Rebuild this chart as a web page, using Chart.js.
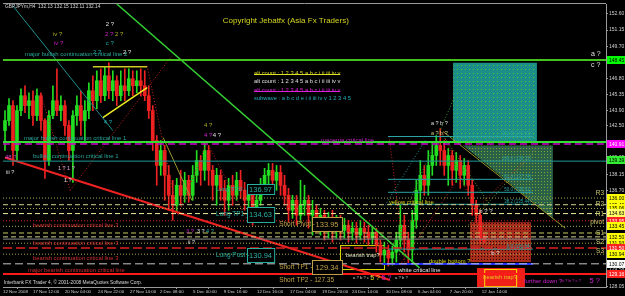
<!DOCTYPE html>
<html>
<head>
<meta charset="utf-8">
<script src="https://cdn.jsdelivr.net/npm/chart.js@4.4.0/dist/chart.umd.min.js"></script>
<style>
html, body { margin: 0; padding: 0; background: #000; overflow: hidden; }
canvas { display: block; }
</style>
</head>
<body>
<canvas id="priceChart" width="625" height="296"></canvas>
<script>
// GBPJPYm H4 candles (bar i sits at x = i + 0.5)
const opens = [142.09,142.99,144.34,140.29,143.89,145.23,144.34,144.78,143.44,145.23,
  142.99,139.39,143.44,144.78,143.89,144.34,142.54,140.29,143.44,144.34,
  142.99,143.89,145.68,144.78,146.58,145.23,147.03,145.68,146.58,145.23,
  146.13,145.68,146.76,146.13,146.58,146.13,145.23,143.89,141.19,138.94,
  140.29,138.05,136.25,135.35,137.15,136.25,137.60,136.25,138.05,139.39,
  138.50,140.29,138.50,137.15,138.05,136.70,135.80,137.15,136.25,137.60,
  136.70,135.80,136.25,134.90,135.80,137.15,138.05,138.50,137.60,138.32,
  137.15,136.25,134.90,135.80,134.45,135.35,135.80,134.45,134.90,133.82,
  134.45,133.55,134.18,133.28,133.82,133.10,133.55,132.92,133.28,132.66,
  133.28,132.92,132.39,132.92,131.76,130.86,131.31,130.59,131.13,132.21,
  133.55,132.21,131.31,134.00,136.70,138.05,137.15,138.94,139.84,140.74,
  140.29,138.94,139.84,138.50,139.39,138.05,138.94,137.15,135.35,134.45,132.39];
const closes = [142.99,144.34,140.29,143.89,145.23,144.34,144.78,143.44,145.23,142.99,
  139.39,143.44,144.78,143.89,144.34,142.54,140.29,143.44,144.34,142.99,
  143.89,145.68,144.78,146.58,145.23,147.03,145.68,146.58,145.23,146.13,
  145.68,146.76,146.13,146.58,146.13,145.23,143.89,141.19,138.94,140.29,
  138.05,136.25,135.35,137.15,136.25,137.60,136.25,138.05,139.39,138.50,
  140.29,138.50,137.15,138.05,136.70,135.80,137.15,136.25,137.60,136.70,
  135.80,136.25,134.90,135.80,137.15,138.05,138.50,137.60,138.32,137.15,
  136.25,134.90,135.80,134.45,135.35,135.80,134.45,134.90,133.82,134.45,
  133.55,134.18,133.28,133.82,133.10,133.55,132.92,133.28,132.66,133.28,
  132.92,132.39,132.92,131.76,130.86,131.31,130.59,131.13,132.21,133.55,
  132.21,131.31,134.00,136.70,138.05,137.15,138.94,139.84,140.74,140.29,
  138.94,139.84,138.50,139.39,138.05,138.94,137.15,135.35,134.45,132.39,132.14];
const highs = [143.89,144.96,144.78,144.34,145.86,146.13,145.50,145.68,145.86,145.50,
  143.17,143.89,146.13,147.66,145.23,144.78,142.99,143.89,145.23,145.68,
  144.78,146.40,147.03,147.48,147.66,147.84,148.20,147.48,147.03,147.48,
  147.66,147.66,147.48,147.48,147.66,147.48,146.13,144.34,141.64,141.19,
  140.74,138.94,137.60,137.78,138.50,138.32,138.05,138.94,140.29,139.84,
  141.01,140.74,138.94,138.68,138.50,137.60,137.78,138.05,138.32,138.50,
  137.42,137.15,136.70,136.70,137.78,138.68,139.12,139.12,138.94,138.94,
  138.05,136.88,136.25,136.25,137.60,137.15,136.25,135.80,135.35,135.08,
  134.90,134.72,134.90,134.45,134.45,134.18,134.00,133.82,133.82,134.00,
  133.82,133.55,133.46,133.28,132.21,132.03,131.76,131.67,132.92,135.35,
  134.45,132.92,134.90,137.60,139.39,138.94,140.29,141.01,141.64,142.27,
  141.19,140.47,140.29,140.11,139.84,139.57,139.39,137.60,135.80,134.90,132.83];
const lows = [140.29,142.54,138.94,139.39,143.44,143.71,143.17,142.54,142.99,142.09,
  137.78,138.94,143.17,143.44,142.99,141.64,139.39,137.42,142.54,141.64,
  141.19,143.17,143.89,144.07,144.61,144.78,144.96,144.78,144.34,144.78,
  144.78,145.23,145.23,145.50,145.23,144.78,143.17,140.29,137.15,138.05,
  135.80,134.90,134.00,134.72,135.35,135.62,135.62,135.80,137.42,137.15,
  137.60,137.15,135.80,135.35,135.80,134.45,134.90,135.35,135.80,135.98,
  134.90,134.72,133.55,134.45,135.35,136.70,137.15,136.88,136.70,136.25,
  135.35,133.82,134.18,133.55,133.82,134.45,133.28,132.66,132.92,132.66,
  132.21,132.39,132.03,132.39,132.21,132.39,132.03,132.21,131.94,132.21,
  132.03,131.76,131.85,131.13,130.23,129.96,129.87,129.96,130.23,131.49,
  131.13,130.05,130.23,133.28,135.80,136.25,136.25,138.05,138.94,138.94,
  138.05,137.15,137.15,137.42,136.88,137.15,136.25,134.45,133.82,131.94,131.94];

// time axis
const timeTickPos = [0, 7.5, 15.5, 23.8, 31.8, 39.3, 47.6, 55.3, 63.6, 71.9, 79.9, 87.4, 95.9, 103.9, 111.9, 119.9];
const timeTickLabels = ['12 Nov 2008', '17 Nov 12:00', '20 Nov 04:00', '24 Nov 22:00', '27 Nov 14:00',
  '2 Dec 08:00', '5 Dec 00:00', '9 Dec 16:00', '12 Dec 16:00', '17 Dec 04:00', '19 Dec 20:00',
  '24 Dec 14:00', '30 Dec 08:00', '6 Jan 04:00', '7 Jan 20:00', '12 Jan 14:00'];

// price axis
const priceTicks = [152.60, 151.15, 149.70, 148.25, 146.80, 145.35, 143.90, 142.50, 139.65, 138.15, 136.70, 128.05];

// full width horizontal levels
const levelPrices = [148.45, 141.05, 140.88, 139.33, 136.00, 135.40, 135.06, 134.60, 133.95, 133.45,
  132.85, 132.50, 132.30, 131.93, 131.50, 130.94, 130.07, 129.15];
const levelStyles = [
  ['#44c31e', 2, []], ['#33dd33', 2, []], ['#cc00cc', 1.5, [7, 4]], ['#1f9a9a', 1, []],
  ['#a8a850', 1, [1, 2]], ['#d0d090', 1, [5, 3]], ['#a8a850', 1, [1, 2]], ['#eeee99', 1, [5, 3]],
  ['#dd2020', 1, [1, 2]], ['#a8a850', 1, [1, 2]], ['#c8c860', 1, [5, 3]], ['#d0d090', 1, [5, 3]],
  ['#8a8a8a', 1, []], ['#a8a850', 1, [1, 2]], ['#e02020', 1.5, [9, 4]], ['#a8a850', 1, [1, 2]],
  ['#c8c8c8', 1, [8, 4]], ['#ff1a1a', 2, []]
];

// fibonacci lines (short, right side)
const fibFrom = 96.4, fibTo = 132.7;
const fibPrices = [141.55, 137.69, 136.52, 135.44, 131.40];
const fibTexts = ['161.8 (141.61)', '100.0 (139.33)', '61.8 (137.74)', '50.0 (136.61)', '38.2 (135.44)', '0.0 (131.54)'];
const fibTextPrices = [141.80, 139.58, 137.94, 136.77, 135.69, 131.65];

// trend lines [x1, p1, x2, p2]
const segments = [
  [28.5, 153.50, 104.3, 129.70],
  [2.5, 153.32, 27.5, 142.09],
  [0.5, 139.66, 96.9, 128.61],
  [25.0, 143.26, 36.1, 145.95],
  [22.5, 147.84, 36.1, 147.84],
  [40.1, 141.46, 47.3, 135.80],
  [110.2, 142.00, 140.8, 133.28],
  [101.9, 135.80, 113.2, 145.23],
  [110.2, 141.64, 122.0, 135.35],
  [116.5, 133.55, 133.2, 140.29],
  [95.7, 135.35, 105.7, 141.19],
  [10.0, 144.78, 16.8, 136.70],
  [16.8, 136.70, 42.3, 148.83],
  [36.1, 147.93, 43.8, 134.45],
  [43.8, 134.45, 51.1, 141.01],
  [51.1, 141.01, 61.9, 133.55],
  [96.7, 141.55, 100.7, 129.96],
  [99.4, 129.96, 117.0, 139.39],
  [110.2, 141.82, 119.5, 133.64],
  [117.0, 134.45, 132.0, 139.84],
  [94.9, 130.05, 132.7, 130.05]
];
const segmentStyles = [
  ['#33cc33', 1.5, []], ['#1f8f8f', 1, []], ['#ee2222', 2, []], ['#eeee22', 1.5, []],
  ['#cccc22', 1.5, []], ['#9a9a30', 1, []], ['#9a9a30', 1, []], ['#3aa03a', 1, [1, 2]],
  ['#6a9a30', 1, [1, 2]], ['#6a9a30', 1, [1, 2]], ['#2a9a9a', 1, [1, 2]], ['#cc2020', 1, [1, 2]],
  ['#cc2020', 1, [1, 2]], ['#cc2020', 1, [1, 2]], ['#cc2020', 1, [1, 2]], ['#cc2020', 1, [1, 2]],
  ['#cc2020', 1, [1, 2]], ['#cc2020', 1, [1, 2]], ['#cc2020', 1, [1, 2]], ['#cc2020', 1, [1, 2]],
  ['#2233ff', 2, []]
];

// pivot names on the right
const pivotNames = ['R3', 'R2', 'R1', 'pivot', 'S1', 'S2', 'S3'];
const pivotNamePrices = [136.43, 135.44, 134.54, 133.82, 132.83, 132.03, 131.22];

// coloured price labels on the axis
const axisLabelPrices = [148.45, 140.91, 139.39, 136.00, 135.40, 135.06, 134.63, 133.95, 133.45,
  132.50, 131.93, 131.50, 130.94, 130.07, 129.58, 129.16];
const axisLabelColors = ['#00ff00', '#ff00ff', '#33ee33', '#ffff00', '#ffff00', '#ffff00', '#ffff66', '#ff2020',
  '#ffff00', '#ffff00', '#ffff00', '#ff2020', '#ffff00', '#ffffff', null, '#ff2020'];

const TEAL = '#28b0a0';
const KHAKI = '#c0a048';

// target boxes: [x1, x2, pTop, pBottom, text]
const valueBoxes = [
  [61.1, 67.9, 137.24, 136.34, '136.97'],
  [61.1, 67.9, 135.17, 133.82, '134.63'],
  [77.4, 84.9, 134.27, 133.01, '133.95'],
  [61.1, 67.9, 131.49, 130.23, '130.94'],
  [77.4, 84.9, 130.41, 129.15, '129.34']
];
const valueBoxColors = [TEAL, TEAL, KHAKI, TEAL, KHAKI];

const texts = [
  [0.25, 153.23, 'GBPJPYm,H4  132.13 132.15 132.11 132.14', '#d8d8d8', 4.8],
  [54.8, 151.97, 'Copyright Jebatfx (Asia Fx Traders)', '#d4d420', 8],
  [62.6, 147.21, 'alt count : 1 2 3 4 5 a b c i ii iii iv v', '#dddd22', 5.8, true],
  [62.6, 146.49, 'alt count : 1 2 3 4 5 a b c i ii iii iv v', '#e0e0e0', 5.8],
  [62.6, 145.68, 'alt count : 1 2 3 4 5 a b c i ii iii iv v', '#dd22dd', 5.8, true],
  [62.6, 144.96, 'subwave : a b c d e i ii iii iv v 1 2 3 4 5', '#22b0c0', 5.8],
  [5.26, 148.92, 'major bullish continuation critical line 2', '#2aa89a', 6],
  [5.0, 141.37, 'major bullish continuation critical line 1', '#2aa89a', 6],
  [7.26, 139.75, 'bullish continuation critical line 1', '#2aa89a', 6],
  [79.4, 141.19, 'magenta critical line', '#c020c0', 6],
  [7.26, 133.55, 'bearish continuation critical line 3', '#d03030', 5.8],
  [7.26, 131.94, 'bearish continuation critical line 3', '#d03030', 5.8],
  [7.26, 130.59, 'bearish continuation critical line 3', '#d03030', 5.8],
  [6.0, 129.51, 'major bearish continuation critical line', '#d03030', 5.8],
  [0.0, 128.34, 'Interbank FX Trader 4, \u00a9 2001-2008 MetaQuotes Software Corp.', '#d8d8d8', 4.8],
  [96.4, 135.62, 'yellow critical line', '#d8d820', 5.8],
  [98.7, 129.51, 'white critical line', '#e8e8e8', 5.8],
  [106.4, 130.32, 'double bottom ?', '#d8d820', 5.8],
  [85.6, 130.86, 'bearish trap?', '#e0e0c0', 5.8],
  [120.0, 128.88, 'bearish trap?', '#f0c020', 5.8],
  [130.2, 128.52, 'further down ?', '#d020d0', 6],
  [139.6, 128.52, 'a ? b ? c ?', '#d020d0', 4.2],
  [146.6, 128.52, '5 ?', '#d020d0', 7.5],
  [87.4, 128.79, 'a ? b ? c ?', '#d0d0d0', 4.2],
  [91.7, 128.79, '5 ?', '#d8d820', 7],
  [94.6, 128.79, '5 ?', '#d020d0', 7],
  [97.9, 128.79, 'a ? b ?', '#d0d0d0', 4.2],
  [25.5, 151.70, '2 ?', '#e0e0e0', 6],
  [12.27, 150.80, 'iv ?', '#b0b020', 6],
  [25.3, 150.80, '2 ?', '#d020d0', 6],
  [27.8, 150.80, '2 ?', '#b0b020', 6],
  [12.52, 149.91, 'iv ?', '#d020d0', 6],
  [25.5, 149.91, 'c ?', '#20b0b0', 6],
  [22.3, 149.10, '2 ?', '#20b0b0', 6],
  [29.8, 149.10, '2 ?', '#e0e0e0', 6],
  [147.0, 149.01, 'a ?', '#e0e0e0', 7],
  [147.0, 148.02, 'c ?', '#e0e0e0', 7],
  [25.0, 142.81, '4 ?', '#20b0b0', 6],
  [50.1, 142.54, '4 ?', '#b0b020', 6],
  [50.1, 141.64, '4 ?', '#d020d0', 6],
  [52.3, 141.64, '4 ?', '#e0e0e0', 6],
  [0.25, 139.66, '48 ?', '#d040d0', 6],
  [0.5, 138.32, 'iii ?', '#e0e0e0', 5.5],
  [13.5, 138.68, '1 ? 1 ?', '#e0b0e0', 5.5],
  [15.0, 137.60, '1 ?', '#e0e0e0', 5.5],
  [45.6, 133.01, '3 ?', '#d020d0', 5.5],
  [48.3, 133.01, '3 ?', '#e0e0e0', 5.5],
  [50.6, 133.01, '4 ?', '#20b0b0', 5.5],
  [46.1, 132.03, 'ii ?', '#e0e0e0', 5.5],
  [106.9, 142.72, 'a ? b ?', '#e0e0e0', 5.5],
  [106.9, 141.82, 'a ? b ?', '#d0d080', 5.5],
  [119.0, 134.81, 'b ? ?', '#e0e0e0', 6],
  [122.0, 131.04, 'b ?', '#e0e0e0', 6],
  [53.1, 136.79, 'Long TP2 -', TEAL, 6],
  [53.1, 134.54, 'Long TP1 -', TEAL, 6.5],
  [68.9, 133.64, 'Short Pivot -', KHAKI, 6.5],
  [53.1, 130.86, 'Long Post -', TEAL, 6.5],
  [68.9, 129.78, 'Short TP1 -', KHAKI, 6.5],
  [68.9, 128.61, 'Short TP2 - 127.35', KHAKI, 6.5]
];

const FONT = '"Liberation Sans", Arial, sans-serif';
const BULL = '#22dd22';
const BEAR = '#ee2222';

function dotPattern(ctx, bg, dot, step) {
  const c = document.createElement('canvas');
  c.width = step; c.height = step;
  const g = c.getContext('2d');
  g.fillStyle = bg; g.fillRect(0, 0, step, step);
  g.fillStyle = dot; g.fillRect(1, 1, 1, 1);
  return ctx.createPattern(c, 'repeat');
}

const overlay = {
  id: 'overlay',
  beforeDatasetsDraw(chart) {
    const { ctx, chartArea: a } = chart;
    const X = v => chart.scales.x.getPixelForValue(v);
    const Y = v => chart.scales.y.getPixelForValue(v);
    ctx.save();
    ctx.beginPath(); ctx.rect(a.left, a.top, a.right - a.left, a.bottom - a.top); ctx.clip();
    // teal target box
    ctx.fillStyle = dotPattern(ctx, '#1b8f88', '#5cbf3a', 4);
    ctx.fillRect(X(112.7), Y(148.20), X(133.7) - X(112.7), Y(141.10) - Y(148.20));
    // green triangle
    ctx.fillStyle = dotPattern(ctx, '#2b6048', '#7aa830', 3);
    ctx.beginPath();
    ctx.moveTo(X(115.2), Y(140.74)); ctx.lineTo(X(137.7), Y(140.74)); ctx.lineTo(X(137.7), Y(134.18));
    ctx.closePath(); ctx.fill();
    // red dotted box
    ctx.fillStyle = dotPattern(ctx, '#a82c1c', '#2a0804', 3);
    ctx.fillRect(X(117.0), Y(133.82), X(132.2) - X(117.0), Y(130.23) - Y(133.82));
    // red bearish trap box
    ctx.fillStyle = '#ee2018';
    ctx.fillRect(X(118.7), Y(129.69), X(130.7) - X(118.7), Y(127.98) - Y(129.69));
    ctx.strokeStyle = '#ffdd00'; ctx.lineWidth = 1;
    ctx.strokeRect(X(120.5) + 0.5, Y(129.60) + 0.5, X(128.5) - X(120.5), Y(128.05) - Y(129.60));
    // yellow outlined box
    ctx.strokeStyle = '#dddd00';
    ctx.strokeRect(X(84.4) + 0.5, Y(131.76) + 0.5, X(95.4) - X(84.4), Y(129.60) - Y(131.76));
    ctx.restore();
  },
  afterDatasetsDraw(chart) {
    const { ctx, chartArea: a } = chart;
    const X = v => chart.scales.x.getPixelForValue(v);
    const Y = v => chart.scales.y.getPixelForValue(v);
    ctx.save();
    ctx.beginPath(); ctx.rect(a.left, a.top - 2, a.right - a.left, a.bottom - a.top + 4); ctx.clip();
    ctx.textBaseline = 'middle';
    // target boxes with numbers
    valueBoxes.forEach((b, i) => {
      const c = valueBoxColors[i];
      ctx.fillStyle = '#000';
      ctx.fillRect(X(b[0]), Y(b[2]), X(b[1]) - X(b[0]), Y(b[3]) - Y(b[2]));
      ctx.strokeStyle = c; ctx.lineWidth = 1;
      ctx.strokeRect(Math.round(X(b[0])) + 0.5, Math.round(Y(b[2])) + 0.5, X(b[1]) - X(b[0]), Y(b[3]) - Y(b[2]));
      ctx.fillStyle = c;
      ctx.font = '7.5px ' + FONT;
      ctx.textAlign = 'center';
      ctx.fillText(b[4], (X(b[0]) + X(b[1])) / 2, (Y(b[2]) + Y(b[3])) / 2 + 0.5);
    });
    // fib texts
    ctx.textAlign = 'right';
    ctx.font = '4.5px ' + FONT;
    ctx.fillStyle = '#2aa6a6';
    fibTexts.forEach((t, i) => ctx.fillText(t, X(fibTo) - 2, Y(fibTextPrices[i])));
    // pivot names
    ctx.font = '6.5px ' + FONT;
    ctx.fillStyle = '#c8c870';
    pivotNames.forEach((t, i) => ctx.fillText(t, X(150.5), Y(pivotNamePrices[i])));
    // free texts
    ctx.textAlign = 'left';
    texts.forEach(t => {
      ctx.font = t[4] + 'px ' + FONT;
      ctx.fillStyle = t[3];
      const x = X(t[0]) + 1, y = Y(t[1]);
      ctx.fillText(t[2], x, y);
      if (t[5]) {
        const w = ctx.measureText(t[2]).width;
        ctx.fillRect(x, Math.round(y), w, 1);
      }
    });
    ctx.restore();
  },
  afterDraw(chart) {
    const { ctx, chartArea: a } = chart;
    const Y = v => chart.scales.y.getPixelForValue(v);
    ctx.save();
    // frame top
    ctx.strokeStyle = '#9a9a9a'; ctx.lineWidth = 1;
    ctx.beginPath(); ctx.moveTo(a.left, a.top - 0.5); ctx.lineTo(a.right, a.top - 0.5); ctx.stroke();
    // coloured axis labels
    ctx.font = '5px ' + FONT;
    ctx.textBaseline = 'middle';
    ctx.textAlign = 'left';
    axisLabelPrices.forEach((p, i) => {
      const y = Y(p);
      const bg = axisLabelColors[i];
      if (bg) {
        ctx.fillStyle = bg;
        ctx.fillRect(a.right + 1, Math.round(y) - 4, 625 - a.right, 8);
        ctx.fillStyle = bg === '#ff2020' || bg === '#ff00ff' ? '#ffffff' : '#000000';
      } else {
        ctx.fillStyle = '#d0d0d0';
      }
      ctx.fillText(p.toFixed(2), a.right + 3, Math.round(y) + 0.5);
    });
    ctx.restore();
  }
};

const candleColors = opens.map((o, i) => closes[i] >= o ? BULL : BEAR);

const lineDatasets = [];
levelPrices.forEach((p, i) => {
  const s = levelStyles[i];
  lineDatasets.push({ type: 'line', data: [{ x: 0, y: p }, { x: 151, y: p }],
    borderColor: s[0], borderWidth: s[1], borderDash: s[2], pointRadius: 0, fill: false, order: 1 });
});
fibPrices.forEach(p => {
  lineDatasets.push({ type: 'line', data: [{ x: fibFrom, y: p }, { x: fibTo, y: p }],
    borderColor: '#2aa6a6', borderWidth: 1, pointRadius: 0, fill: false, order: 1 });
});
segments.forEach((s, i) => {
  const st = segmentStyles[i];
  lineDatasets.push({ type: 'line', data: [{ x: s[0], y: s[1] }, { x: s[2], y: s[3] }],
    borderColor: st[0], borderWidth: st[1], borderDash: st[2], pointRadius: 0, fill: false, order: 1 });
});

new Chart(document.getElementById('priceChart'), {
  type: 'bar',
  data: {
    datasets: [
      {
        data: highs.map((h, i) => ({ x: i + 0.5, y: [lows[i], h] })),
        backgroundColor: candleColors,
        barThickness: 1,
        grouped: false,
        order: 2
      },
      {
        data: opens.map((o, i) => ({ x: i + 0.5, y: [o, closes[i]] })),
        backgroundColor: candleColors,
        barThickness: 3,
        grouped: false,
        order: 2
      },
      ...lineDatasets
    ]
  },
  options: {
    responsive: false,
    animation: false,
    devicePixelRatio: 1,
    layout: { padding: { top: 3, left: 3, right: 0, bottom: 0 } },
    plugins: { legend: { display: false }, tooltip: { enabled: false } },
    scales: {
      x: {
        type: 'linear',
        min: 0,
        max: 151,
        offset: false,
        grid: { drawOnChartArea: false, drawTicks: true, tickLength: 2, color: '#9a9a9a' },
        border: { color: '#9a9a9a' },
        afterBuildTicks: scale => { scale.ticks = timeTickPos.map(v => ({ value: v })); },
        afterFit: scale => { scale.height = 9; },
        ticks: {
          autoSkip: false,
          maxRotation: 0,
          align: 'start',
          padding: 0,
          color: '#d0d0d0',
          font: { family: FONT, size: 4.4 },
          callback: (v, i) => timeTickLabels[i]
        }
      },
      y: {
        position: 'right',
        min: 127.98,
        max: 153.50,
        grid: { drawOnChartArea: false, drawTicks: true, tickLength: 2, color: '#9a9a9a' },
        border: { color: '#9a9a9a' },
        afterBuildTicks: scale => { scale.ticks = priceTicks.map(v => ({ value: v })); },
        afterFit: scale => { scale.width = 19; },
        ticks: {
          autoSkip: false,
          padding: 1,
          color: '#d0d0d0',
          font: { family: FONT, size: 5 },
          callback: v => v.toFixed(2)
        }
      }
    }
  },
  plugins: [overlay]
});
</script>
</body>
</html>
